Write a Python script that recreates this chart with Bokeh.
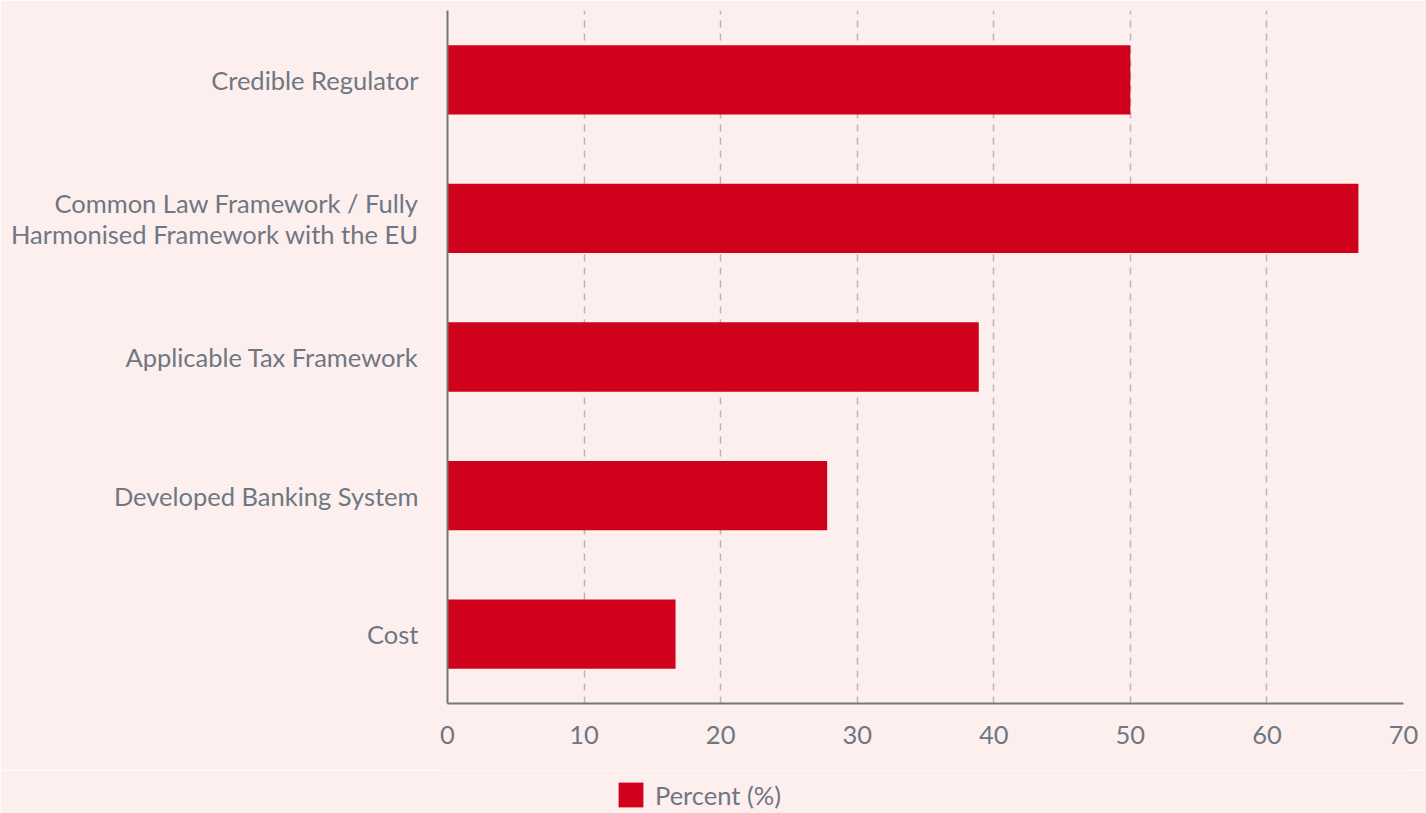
from bokeh.plotting import figure
from bokeh.layouts import column
from bokeh.models import ColumnDataSource, Legend, LegendItem, FixedTicker, Range1d, FactorRange
from bokeh.embed import file_html
from bokeh.resources import INLINE

categories = [
    "Credible Regulator",
    "Common Law Framework / Fully\nHarmonised Framework with the EU",
    "Applicable Tax Framework",
    "Developed Banking System",
    "Cost",
]
percent = [50.0, 66.7, 38.9, 27.8, 16.7]
x_ticks = [0, 10, 20, 30, 40, 50, 60, 70]
series_name = "Percent (%)"

BG = "#fdefee"
RED = "#d0021b"
TXT = "#6e7782"
FONT = "Lato"

src = ColumnDataSource(dict(cat=categories, val=percent))

p = figure(
    width=1426, height=770,
    y_range=FactorRange(factors=list(reversed(categories)), range_padding=0),
    x_range=Range1d(0, 70),
    output_backend="svg", toolbar_location=None,
    background_fill_color=BG, border_fill_color=BG,
    min_border_left=447, min_border_right=23, min_border_top=10, min_border_bottom=67,
    outline_line_color=None,
)

r = p.hbar(y="cat", right="val", left=0, height=0.5, source=src,
           fill_color=RED, line_color=None)

p.xaxis.ticker = FixedTicker(ticks=x_ticks)
p.xgrid.ticker = FixedTicker(ticks=x_ticks[1:])
p.xgrid.grid_line_color = "#b9b6b6"
p.xgrid.grid_line_width = 1.5
p.xgrid.grid_line_dash = "7 6"
p.ygrid.grid_line_color = None

for ax in (p.xaxis[0], p.yaxis[0]):
    ax.axis_line_color = "#72777f"
    ax.axis_line_width = 2
    ax.major_tick_line_color = None
    ax.minor_tick_line_color = None
    ax.major_label_text_font = FONT
    ax.major_label_text_color = TXT
    ax.major_label_text_font_size = "25.5px"

p.yaxis.major_label_text_line_height = 1.06
p.xaxis.major_label_standoff = 16
p.yaxis.major_label_standoff = 23
p.yaxis.major_label_text_align = "right"

# legend strip below the chart
pl = figure(
    width=1426, height=43,
    x_range=Range1d(0, 70),
    y_range=FactorRange(factors=list(reversed(categories))),
    output_backend="svg", toolbar_location=None,
    background_fill_color=BG, border_fill_color=BG,
    min_border_left=447, min_border_right=23, min_border_top=0, min_border_bottom=0,
    outline_line_color=None,
    x_axis_location=None, y_axis_location=None,
)
pl.grid.grid_line_color = None
proxy = pl.hbar(y="cat", right="val", left=0, height=0.5, source=src,
                fill_color=RED, line_color=None, visible=False)

legend = Legend(
    items=[LegendItem(label=series_name, renderers=[proxy])],
    location=(168, 3),
    orientation="horizontal",
    background_fill_alpha=0, border_line_color=None,
    label_text_font=FONT, label_text_color=TXT, label_text_font_size="25.5px",
    glyph_width=31, glyph_height=31, label_standoff=9, padding=0, margin=0,
)
pl.add_layout(legend, "center")

layout = column(p, pl, spacing=0)
open("out.html", "w").write(file_html(layout, INLINE))
